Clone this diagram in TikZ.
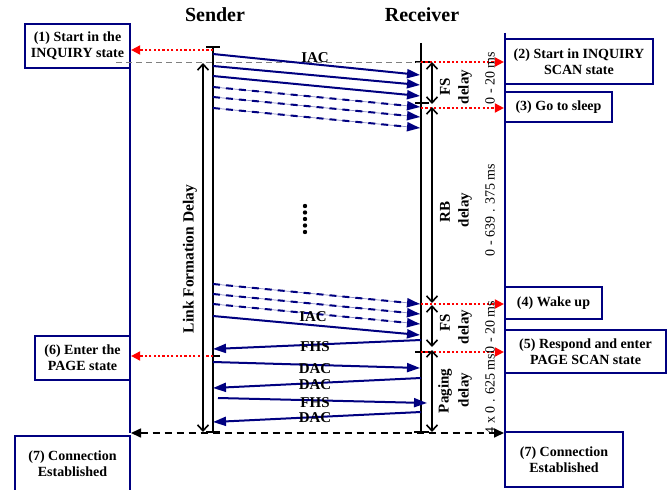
\documentclass[tikz,border=0pt]{standalone}
\usepackage{fontspec}
\setmainfont{Liberation Serif}
\usetikzlibrary{arrows.meta}
\definecolor{navyb}{RGB}{0,0,128}
\begin{document}
\begin{tikzpicture}[x=1pt,y=-1pt,
  box/.style={draw=navyb, line width=2.2pt, fill=white, align=center, inner sep=0pt,
    font=\bfseries\fontsize{14}{16}\selectfont},
  lifeline/.style={line width=1.8pt},
  blueline/.style={draw=navyb, line width=2pt},
  msg/.style={draw=navyb, line width=2pt, -{Triangle[length=13pt,width=9pt]}},
  dmsg/.style={msg, dash pattern=on 7pt off 6pt,
    preaction={draw=navyb!45, line width=0.7pt, solid, -}},
  reddot/.style={draw=red, line width=1.8pt, dash pattern=on 2.2pt off 2.2pt,
    -{Triangle[length=9pt,width=9pt]}},
  graydash/.style={draw=gray, line width=0.8pt, dash pattern=on 6pt off 4pt},
  blackdash/.style={line width=1.6pt, dash pattern=on 7pt off 5pt,
    {Triangle[length=10pt,width=9pt]}-{Triangle[length=10pt,width=9pt]}},
  delayarr/.style={line width=1.6pt,
    {Straight Barb[length=6pt,width=11pt]}-{Straight Barb[length=6pt,width=11pt]}},
  tickmark/.style={line width=1.6pt},
  title/.style={font=\bfseries\fontsize{20}{24}\selectfont, inner sep=0pt},
  mlabel/.style={font=\bfseries\fontsize{15}{17}\selectfont, inner sep=0pt},
  dlabel/.style={rotate=90, font=\bfseries\fontsize{15}{17}\selectfont, inner sep=0pt},
  tlabel/.style={rotate=90, font=\fontsize{14}{16}\selectfont, inner sep=0pt}
]
\useasboundingbox (0,0) rectangle (668,489);

% titles
\node[title] (tS) at (215,15) {Sender};
\node[title] (tR) at (422,15) {Receiver};

% outer blue lines
\coordinate (bl1) at (130,68); \coordinate (bl2) at (130,433);
\coordinate (br1) at (505,33); \coordinate (br2) at (505,432);
\draw[blueline] (bl1) -- (bl2);
\draw[blueline] (br1) -- (br2);

% lifelines
\coordinate (s1) at (213,47); \coordinate (s2) at (213,432);
\coordinate (r1) at (421,43); \coordinate (r2) at (421,432);
\draw[lifeline] (s1) -- (s2);
\draw[lifeline] (r1) -- (r2);

% ticks
\draw[tickmark] (206,47) -- (220,47);
\draw[tickmark] (213,356) -- (220,356);
\draw[tickmark] (206,432) -- (220,432);
\draw[tickmark] (415,62) -- (430,62);
\draw[tickmark] (415,103) -- (429,103);
\draw[tickmark] (415,352) -- (430,352);
\draw[tickmark] (414,432) -- (429,432);

% boxes
\node[box, minimum width=105pt, minimum height=44pt] (b1) at (77.5,46) {(1) Start in the\\INQUIRY state};
\node[box, minimum width=148pt, minimum height=45pt] (b2) at (579,61.5) {(2) Start in INQUIRY\\SCAN state};
\node[box, minimum width=107pt, minimum height=30pt] (b3) at (558.5,107) {(3) Go to sleep};
\node[box, minimum width=97pt, minimum height=32pt] (b4) at (553.5,303) {(4) Wake up};
\node[box, minimum width=161pt, minimum height=43pt] (b5) at (585.5,351.5) {(5) Respond and enter\\PAGE SCAN state};
\node[box, minimum width=95pt, minimum height=44pt] (b6) at (82.5,358) {(6) Enter the\\PAGE state};
\node[box, minimum width=115pt, minimum height=55pt] (b7l) at (72.5,463.5) {(7) Connection\\Established};
\node[box, minimum width=118pt, minimum height=55pt] (b7r) at (564,459.5) {(7) Connection\\Established};

% gray dashed reference line
\coordinate (g1) at (116,62); \coordinate (g2) at (421,62);
\draw[graydash] (g1) -- (g2);

% red dotted state arrows
\coordinate (e1) at (213,50);
\coordinate (e2) at (421,62);
\coordinate (e3) at (421,108);
\coordinate (e4) at (421,304);
\coordinate (e5) at (421,352);
\coordinate (e6) at (213,356);
\draw[reddot] (e1) -- (b1.east |- e1);
\draw[reddot] (e2) -- (b2.west |- e2);
\draw[reddot] (e3) -- (b3.west |- e3);
\draw[reddot] (e4) -- (b4.west |- e4);
\draw[reddot] (e5) -- (b5.west |- e5);
\draw[reddot] (e6) -- (b6.east |- e6);

% connection established
\coordinate (cL) at (131,433); \coordinate (cR) at (504,433);
\draw[blackdash] (cL) -- (cR);

% link formation delay
\coordinate (lf1) at (203,63); \coordinate (lf2) at (203,432);
\draw[delayarr] (lf1) -- (lf2);
\node[dlabel, font=\bfseries\fontsize{15.5}{18}\selectfont] (lfd) at (190,259) {Link Formation Delay};

% receiver delays
\coordinate (d0) at (432,62);  \coordinate (d1) at (432,104);
\coordinate (d2) at (432,107); \coordinate (d3) at (432,303);
\coordinate (d4) at (432,305); \coordinate (d5) at (432,347);
\coordinate (d6) at (432,350); \coordinate (d7) at (432,432);
\draw[delayarr] (d0) -- (d1);
\draw[delayarr] (d2) -- (d3);
\draw[delayarr] (d4) -- (d5);
\draw[delayarr] (d6) -- (d7);

\node[dlabel] (fs1a) at (445,87) {FS};
\node[dlabel] (fs1b) at (465,87) {delay};
\node[tlabel] (fs1c) at (490,78) {0 - 20 ms};
\node[dlabel] (rba) at (445,212) {RB};
\node[dlabel] (rbb) at (465,210) {delay};
\node[tlabel] (rbc) at (490,210) {0 - 639 . 375 ms};
\node[dlabel] (fs2a) at (445,323) {FS};
\node[dlabel] (fs2b) at (465,327) {delay};
\node[tlabel] (fs2c) at (490,327) {0 - 20 ms};
\node[dlabel] (pga) at (445,391) {Paging};
\node[dlabel] (pgb) at (465,390) {delay};
\node[tlabel] (pgc) at (490,394) {4 x 0 . 625 ms};

% inquiry messages (top)
\draw[msg] (213,54) -- (420,75);
\draw[msg] (213,66) -- (420,85);
\draw[msg] (213,76) -- (420,96);
\draw[dmsg] (213,87) -- (420,107);
\draw[dmsg] (213,97) -- (420,117);
\draw[dmsg] (213,108) -- (420,128);
\node[mlabel] (iac1) at (315,58) {IAC};

% dots
\foreach \yy in {206,212.5,219,225.5,232} \fill (305,\yy) circle (2.2pt);

% inquiry messages (bottom)
\draw[dmsg] (213,284) -- (420,304);
\draw[dmsg] (213,294) -- (420,314);
\draw[dmsg] (213,304) -- (420,324);
\draw[msg] (213,316) -- (420,335);
\node[mlabel] (iac2) at (313,317) {IAC};

% paging exchange
\draw[msg] (421,340) -- (213,349);
\node[mlabel] (fhs1) at (315,347) {FHS};
\draw[msg] (213,362) -- (420,368);
\node[mlabel] (dac1) at (315,369) {DAC};
\draw[msg] (421,378) -- (213,388);
\node[mlabel] (dac2) at (315,385) {DAC};
\draw[msg] (218,398) -- (427,403);
\node[mlabel] (fhs2) at (315,403) {FHS};
\draw[msg] (421,412) -- (213,422);
\node[mlabel] (dac3) at (315,418) {DAC};
\end{tikzpicture}
\end{document}
